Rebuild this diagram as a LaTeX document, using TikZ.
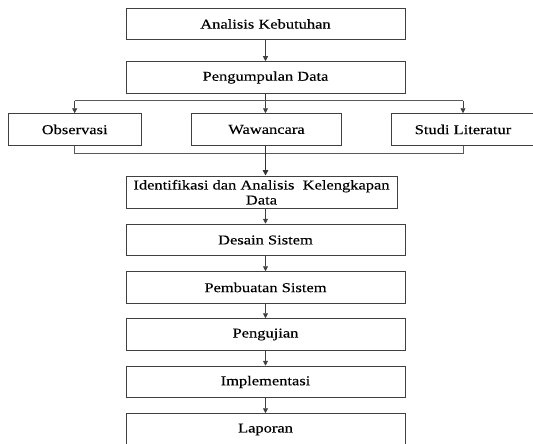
\documentclass[tikz,border=0pt]{standalone}
\usepackage{fontspec}
\setmainfont{Liberation Serif}[FakeStretch=1.22,FakeBold=0.2]
\usetikzlibrary{arrows.meta}

\begin{document}
\begin{tikzpicture}[x=1pt,y=1pt]
\tikzstyle{every node}+=[inner sep=0pt]
\tikzstyle{box}=[draw=black!75, line width=1pt, minimum height=31.5pt, font=\fontsize{13.5}{15}\selectfont, text=black, align=center]
\tikzstyle{link}=[draw=black!75, line width=0.8pt, -{Triangle[length=5pt,width=5pt]}]
\tikzstyle{bus}=[draw=black!65, line width=0.8pt]
\tikzstyle{trunk}=[draw=black!80, line width=1.4pt]
\useasboundingbox (0,0) rectangle (533,-444);
\node [box, minimum width=279pt] (kebutuhan) at (265.5,-24) {Analisis Kebutuhan};
\node [box, minimum width=279pt] (pengumpulan) at (265.5,-77.5) {Pengumpulan Data};
\node [box, minimum width=133pt] (observasi) at (74.7,-129.5) {Observasi};
\node [box, minimum width=150pt] (wawancara) at (266.5,-129.5) {Wawancara};
\node [box, minimum width=144pt] (studi) at (463,-129.5) {Studi Literatur};
\node [box, minimum width=271pt, minimum height=32.5pt] (identifikasi) at (261.5,-192.3) {Identifikasi dan Analisis\ \ Kelengkapan\\Data};
\node [box, minimum width=279pt] (desain) at (265.5,-240) {Desain Sistem};
\node [box, minimum width=279pt] (pembuatan) at (265.5,-287.5) {Pembuatan Sistem};
\node [box, minimum width=279pt] (pengujian) at (265.5,-334.5) {Pengujian};
\node [box, minimum width=279pt] (implementasi) at (265.5,-382) {Implementasi};
\node [box, minimum width=279pt] (laporan) at (265.5,-429.5) {Laporan};
% branching to the three data sources
\coordinate (bus1) at (265.5,-100.5);
\coordinate (bus2) at (265.5,-153);
\draw [link] (kebutuhan.south) -- (pengumpulan.north);
\draw [trunk] (pengumpulan.south) -- (bus1);
\draw [bus] (observasi.north |- bus1) -- (studi.north |- bus1);
\draw [link] (observasi.north |- bus1) -- (observasi.north);
\draw [link] (bus1) -- (bus1 |- wawancara.north);
\draw [link] (studi.north |- bus1) -- (studi.north);
\draw [bus] (observasi.south) -- (observasi.south |- bus2) -- (studi.south |- bus2) -- (studi.south);
\draw [trunk, -{Triangle[length=5.5pt,width=5.5pt]}] (bus1 |- wawancara.south) -- (bus1 |- identifikasi.north);
% main sequence
\draw [link] (desain.north |- identifikasi.south) -- (desain.north);
\draw [link] (desain.south) -- (pembuatan.north);
\draw [link] (pembuatan.south) -- (pengujian.north);
\draw [link] (pengujian.south) -- (implementasi.north);
\draw [link] (implementasi.south) -- (laporan.north);
\end{tikzpicture}
\end{document}
